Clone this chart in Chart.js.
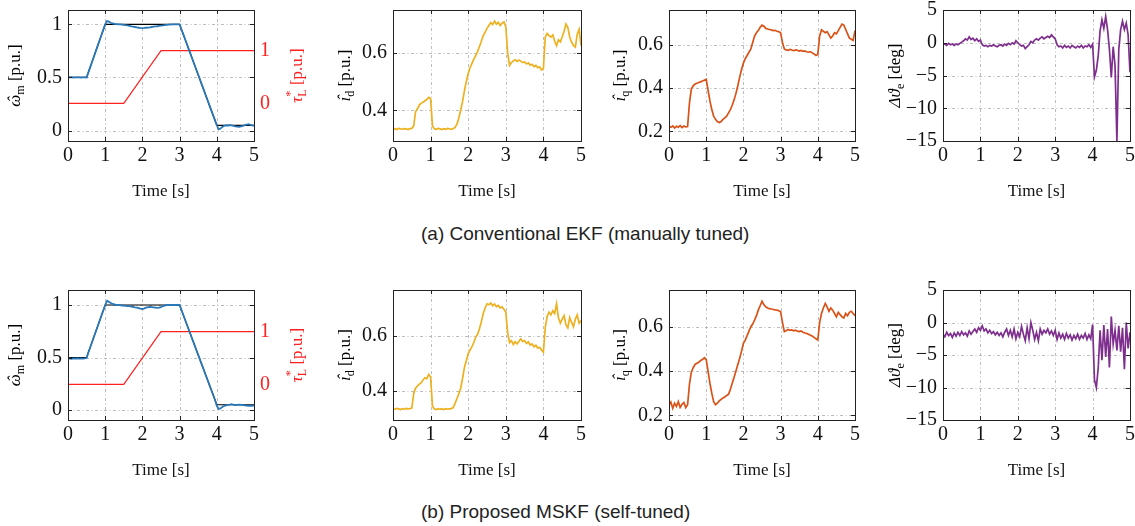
<!DOCTYPE html>
<html>
<head>
<meta charset="utf-8">
<script src="https://cdn.jsdelivr.net/npm/chart.js@4.4.1/dist/chart.umd.min.js"></script>
<style>
  body { margin: 0; background: #fff; width: 1135px; height: 526px; position: relative; overflow: hidden; }
  canvas { position: absolute; }
  .cap { position: absolute; left: 421px; font: 19px "Liberation Sans", Arial, sans-serif; color: #222; line-height: 22px; white-space: nowrap; }
</style>
</head>
<body>
<div class="cap" style="top:223px">(a) Conventional EKF (manually tuned)</div>
<div class="cap" style="top:501px">(b) Proposed MSKF (self-tuned)</div>
<script>
// time grid used by the sampled series (s)
const tGrid = [0,0.05,0.1,0.15,0.2,0.25,0.3,0.35,0.4,0.45,0.5,0.55,0.6,0.65,0.7,0.75,0.8,0.85,0.9,0.95,
  1,1.05,1.1,1.15,1.2,1.25,1.3,1.35,1.4,1.45,1.5,1.55,1.6,1.65,1.7,1.75,1.8,1.85,1.9,1.95,
  2,2.05,2.1,2.15,2.2,2.25,2.3,2.35,2.4,2.45,2.5,2.55,2.6,2.65,2.7,2.75,2.8,2.85,2.9,2.95,
  3,3.05,3.1,3.15,3.2,3.25,3.3,3.35,3.4,3.45,3.5,3.55,3.6,3.65,3.7,3.75,3.8,3.85,3.9,3.95,
  4,4.05,4.1,4.15,4.2,4.25,4.3,4.35,4.4,4.45,4.5,4.55,4.6,4.65,4.7,4.75,4.8,4.85,4.9,4.95,5];

// speed reference and load torque reference (same in both runs)
const speedRef = [[0,0.5],[0.5,0.5],[1,1],[3,1],[4,0.05],[5,0.05]];
const torqueRef = [[0,0],[1.5,0],[2.5,1],[5,1]];

// (a) conventional EKF
const speedEstA = [0.5,0.5,0.502,0.499,0.5,0.501,0.5,0.499,0.5,0.501,0.5,
  0.55,0.6,0.65,0.7,0.75,0.8,0.85,0.9,0.95,1.0,1.03,1.025,1.015,1.01,1.005,1.003,1.0,1.0,0.998,
  0.995,0.992,0.99,0.985,0.98,0.978,0.975,0.972,0.968,0.966,0.965,0.966,0.968,0.97,0.972,0.975,0.978,0.98,0.982,0.985,
  0.988,0.99,0.993,0.995,0.997,0.998,1.0,1.0,1.0,1.0,1.0,
  0.952,0.905,0.857,0.81,0.762,0.715,0.667,0.62,0.572,0.525,0.478,0.43,0.383,0.335,0.288,0.24,0.193,0.145,0.098,
  0.05,0.012,0.02,0.035,0.045,0.05,0.048,0.052,0.05,0.045,0.04,0.038,0.035,0.04,0.045,0.052,0.055,0.06,0.055,0.05,0.045];
const idA = [0.334,0.336,0.333,0.337,0.335,0.334,0.336,0.335,0.333,0.336,0.337,
  0.345,0.395,0.405,0.418,0.425,0.428,0.433,0.438,0.445,0.44,0.345,0.336,0.334,0.337,0.335,0.333,0.336,0.334,0.337,
  0.335,0.334,0.336,0.34,0.352,0.372,0.4,0.43,0.468,0.5,0.528,0.548,0.563,0.578,0.59,0.605,0.622,0.64,0.66,0.672,
  0.685,0.695,0.705,0.698,0.71,0.7,0.706,0.695,0.703,0.708,0.69,0.6,0.556,0.566,0.572,0.576,0.57,0.575,0.571,0.566,
  0.568,0.561,0.565,0.557,0.56,0.552,0.556,0.548,0.551,0.54,0.545,0.655,0.667,0.66,0.655,0.662,0.64,0.625,0.645,0.638,
  0.655,0.675,0.7,0.688,0.655,0.637,0.626,0.62,0.665,0.682,0.625];
const iqA = [0.222,0.218,0.225,0.215,0.223,0.219,0.226,0.217,0.224,0.22,0.222,
  0.33,0.395,0.41,0.418,0.422,0.425,0.428,0.432,0.436,0.44,0.39,0.34,0.3,0.27,0.255,0.245,0.24,0.245,0.255,
  0.262,0.27,0.285,0.3,0.32,0.345,0.375,0.41,0.45,0.485,0.515,0.535,0.55,0.565,0.58,0.61,0.64,0.655,0.665,0.68,
  0.69,0.685,0.675,0.672,0.67,0.668,0.665,0.666,0.662,0.66,0.655,0.61,0.58,0.576,0.574,0.578,0.575,0.572,0.576,0.574,
  0.57,0.573,0.569,0.571,0.567,0.565,0.568,0.562,0.557,0.55,0.555,0.64,0.668,0.662,0.655,0.66,0.645,0.63,0.64,0.655,
  0.65,0.665,0.68,0.695,0.69,0.67,0.65,0.63,0.625,0.62,0.665];
const dthA = [-0.3,-0.2,-0.4,-0.1,-0.3,-0.2,-0.4,-0.2,-0.3,-0.1,0.1,
  0.3,0.6,0.4,0.9,0.5,0.7,0.3,0.6,0.2,0.4,-0.3,-0.5,-0.4,-0.6,-0.4,-0.5,-0.3,-0.5,-0.6,
  -0.4,-0.3,-0.5,-0.2,-0.4,-0.1,-0.3,0.0,-0.2,0.3,0.0,-0.3,-0.5,-0.4,-0.9,-0.6,-0.3,0.2,0.0,0.4,
  0.6,0.4,0.7,0.9,0.6,0.8,1.0,0.8,1.2,0.9,0.6,-0.3,-0.6,-0.5,-0.8,-0.4,-0.7,-0.5,-0.8,-0.4,
  -0.6,-0.8,-0.5,-0.7,-0.4,-0.8,-0.5,-0.6,-0.3,-0.7,-0.2,-5.2,-4.2,-2.0,1.8,3.5,2.2,4.0,2.0,-1.0,
  -5.3,-0.6,-3.5,-15,-1.0,2.0,3.3,2.0,3.0,1.2,-4.5];

// (b) proposed MSKF
const speedEstB = [0.49,0.492,0.488,0.491,0.49,0.493,0.489,0.492,0.49,0.491,0.495,
  0.55,0.6,0.65,0.7,0.75,0.8,0.85,0.9,0.95,1.0,1.04,1.03,1.02,1.01,1.005,1.0,1.0,0.998,0.995,
  0.995,0.992,0.99,0.99,0.985,0.982,0.978,0.975,0.97,0.965,0.962,0.968,0.975,0.98,0.982,0.98,0.978,0.975,0.972,0.975,
  0.98,0.99,0.995,1.0,1.0,1.0,1.0,1.0,1.0,1.0,1.0,
  0.952,0.905,0.857,0.81,0.762,0.715,0.667,0.62,0.572,0.525,0.478,0.43,0.383,0.335,0.288,0.24,0.193,0.145,0.098,
  0.04,0.01,0.015,0.03,0.04,0.045,0.05,0.052,0.055,0.05,0.048,0.05,0.052,0.05,0.048,0.045,0.042,0.04,0.042,0.04,0.045];
const idB = [0.336,0.334,0.337,0.335,0.333,0.336,0.334,0.337,0.335,0.336,0.338,
  0.39,0.41,0.418,0.425,0.43,0.44,0.448,0.445,0.46,0.45,0.345,0.335,0.333,0.336,0.334,0.335,0.333,0.336,0.334,
  0.335,0.336,0.34,0.355,0.372,0.39,0.41,0.445,0.485,0.51,0.535,0.548,0.56,0.575,0.595,0.605,0.625,0.65,0.68,0.7,
  0.715,0.712,0.718,0.708,0.714,0.705,0.709,0.7,0.704,0.695,0.685,0.61,0.575,0.582,0.568,0.578,0.57,0.58,0.588,0.579,
  0.582,0.572,0.578,0.566,0.57,0.56,0.565,0.555,0.558,0.548,0.54,0.63,0.67,0.685,0.675,0.69,0.68,0.715,0.665,0.645,
  0.66,0.672,0.64,0.628,0.665,0.648,0.632,0.66,0.675,0.645,0.655];
const iqB = [0.245,0.26,0.232,0.255,0.24,0.262,0.236,0.25,0.258,0.235,0.248,
  0.34,0.395,0.415,0.43,0.435,0.44,0.448,0.452,0.46,0.452,0.4,0.345,0.3,0.262,0.248,0.255,0.265,0.272,0.278,
  0.283,0.29,0.295,0.318,0.345,0.372,0.4,0.43,0.458,0.49,0.525,0.54,0.56,0.58,0.6,0.612,0.63,0.65,0.675,0.695,
  0.715,0.7,0.69,0.685,0.682,0.68,0.678,0.676,0.675,0.672,0.668,0.62,0.578,0.582,0.588,0.584,0.586,0.582,0.585,0.58,
  0.578,0.581,0.575,0.572,0.57,0.566,0.562,0.558,0.552,0.546,0.54,0.62,0.66,0.685,0.705,0.69,0.67,0.685,0.675,0.66,
  0.645,0.665,0.655,0.645,0.64,0.66,0.65,0.665,0.67,0.66,0.65];
const dthB = [-1.8,-2.2,-1.5,-2.0,-1.7,-2.3,-1.6,-2.1,-1.5,-2.0,-1.4,
  -1.9,-1.6,-2.1,-1.3,-1.8,-1.4,-1.0,-1.5,-0.8,-1.2,-0.5,-1.3,-1.0,-1.6,-1.2,-1.7,-1.4,-1.9,-1.5,
  -2.0,-1.6,-2.2,-1.5,-1.0,-2.0,-1.2,-2.2,-1.0,-2.5,-1.5,-2.2,-0.6,-1.8,-2.8,-0.8,-2.5,0.0,-1.2,-2.6,
  -1.5,-2.8,-1.0,-1.8,-1.2,-1.6,-1.0,-1.8,-1.3,-2.0,-1.2,-2.6,-1.6,-2.4,-1.8,-2.6,-1.7,-2.4,-1.9,-2.7,
  -2.0,-2.5,-1.8,-2.6,-2.0,-2.4,-1.7,-2.6,-1.9,-2.5,-0.3,-8.8,-10.0,-7.0,-1.2,-5.8,-0.4,-5.3,-1.0,-6.9,
  0.9,-3.3,-1.2,-4.3,-0.5,-4.5,-0.8,-7.2,0.0,-4.0,-1.5];

// tick labels
const timeTicks = [0,1,2,3,4,5];
const speedTicks = [0,0.5,1];
const torqueTicks = [0,1];
const idTicks = [0.4,0.6];
const iqTicks = [0.2,0.4,0.6];
const angleTicks = [-15,-10,-5,0,5];

const BLUE = '#2a78b8', ORANGE = '#d95319', YELLOW = '#edb120', PURPLE = '#7e2f8e', RED = '#ff2020';
const SERIF = 'Liberation Serif';
Chart.defaults.font.family = SERIF;

const onGrid = vals => vals.map((v, i) => ({x: tGrid[i], y: v}));
const fromPairs = prs => prs.map(p => ({x: p[0], y: p[1]}));
const fmt = v => (v < 0 ? '\u2212' + Math.abs(v) : String(v));

// grid, frame and inner tick marks like pgfplots
const framePlugin = {
  id: 'frame',
  beforeDatasetsDraw(chart) {
    const {ctx, chartArea: a, scales} = chart;
    ctx.save();
    ctx.strokeStyle = '#b4b4b4';
    ctx.lineWidth = 0.9;
    ctx.setLineDash([3, 2.5, 1, 2.5]);
    ctx.beginPath();
    scales.x.ticks.forEach(t => {
      const x = Math.round(scales.x.getPixelForValue(t.value)) + 0.5;
      ctx.moveTo(x, a.top); ctx.lineTo(x, a.bottom);
    });
    scales.y.ticks.forEach(t => {
      const y = Math.round(scales.y.getPixelForValue(t.value)) + 0.5;
      ctx.moveTo(a.left, y); ctx.lineTo(a.right, y);
    });
    ctx.stroke();
    ctx.restore();
  },
  afterDatasetsDraw(chart) {
    const {ctx, chartArea: a, scales} = chart;
    ctx.save();
    ctx.strokeStyle = '#222';
    ctx.lineWidth = 1;
    ctx.beginPath();
    scales.x.ticks.forEach(t => {
      const x = Math.round(scales.x.getPixelForValue(t.value)) + 0.5;
      ctx.moveTo(x, a.bottom); ctx.lineTo(x, a.bottom - 4);
      ctx.moveTo(x, a.top); ctx.lineTo(x, a.top + 4);
    });
    scales.y.ticks.forEach(t => {
      const y = Math.round(scales.y.getPixelForValue(t.value)) + 0.5;
      ctx.moveTo(a.left, y); ctx.lineTo(a.left + 4, y);
      ctx.moveTo(a.right, y); ctx.lineTo(a.right - 4, y);
    });
    ctx.stroke();
    ctx.strokeRect(Math.round(a.left) + 0.5, Math.round(a.top) + 0.5,
      Math.round(a.right - a.left), Math.round(a.bottom - a.top));
    ctx.restore();
  }
};

// rotated axis labels with sub/superscripts (hat drawn over the glyph)
function drawRich(ctx, segs, cx, cy, color) {
  const big = '17px ' + SERIF, bigI = 'italic 17px ' + SERIF, small = '12px ' + SERIF, smallI = 'italic 12px ' + SERIF;
  const fontOf = s => s.sub || s.sup ? (s.i ? smallI : small) : (s.i ? bigI : big);
  ctx.save();
  let w = 0;
  segs.forEach(s => { ctx.font = fontOf(s); if (!s.stack) w += ctx.measureText(s.t).width; });
  ctx.translate(cx, cy);
  ctx.rotate(-Math.PI / 2);
  ctx.fillStyle = color;
  ctx.textBaseline = 'alphabetic';
  let x = -w / 2;
  segs.forEach(s => {
    ctx.font = fontOf(s);
    const dy = s.sub ? 9 : s.sup ? -3 : 5;
    const sw = ctx.measureText(s.t).width;
    ctx.fillText(s.t, x, dy);
    if (s.hat) {
      ctx.textAlign = 'center';
      ctx.fillText('\u02C6', x + sw / 2 + 1, dy - 1);
      ctx.textAlign = 'left';
    }
    if (!s.stack) x += sw;
  });
  ctx.restore();
}

const labelPlugin = {
  id: 'richLabels',
  afterDraw(chart) {
    const p = chart.options.plugins.richLabels;
    const a = chart.chartArea;
    const cy = (a.top + a.bottom) / 2;
    drawRich(chart.ctx, p.left, p.leftX, cy, '#000');
    if (p.right) drawRich(chart.ctx, p.right, p.rightX, cy, RED);
  }
};

const PU = {t: ' [p.u.]'};
const panels = [
  // row (a)
  {left: 0, top: 0, w: 310, h: 202, bx: 68, br: 254, bt: 10, bb: 141, y: [-0.098, 1.135], yt: speedTicks,
   y2: [-0.717, 1.774], lab: [{t: 'ω', i: true, hat: true}, {t: 'm', sub: true}, PU], labX: 15,
   lab2: [{t: 'τ', i: true}, {t: '*', sup: true, stack: true}, {t: 'L', sub: true}, PU], lab2X: 297,
   sets: [{d: onGrid(speedEstA), c: BLUE, w: 1.8}, {d: fromPairs(speedRef), c: '#000', w: 1.2},
          {d: fromPairs(torqueRef), c: RED, w: 1.2, axis: 'y2'}]},
  {left: 325, top: 0, w: 265, h: 202, bx: 393, br: 581, bt: 10, bb: 141, y: [0.293, 0.749], yt: idTicks,
   lab: [{t: 'ı', i: true, hat: true}, {t: 'd', sub: true}, PU], labX: 345, sets: [{d: onGrid(idA), c: YELLOW, w: 1.7}]},
  {left: 600, top: 0, w: 265, h: 202, bx: 669, br: 855, bt: 10, bb: 141, y: [0.155, 0.76], yt: iqTicks,
   lab: [{t: 'ı', i: true, hat: true}, {t: 'q', sub: true}, PU], labX: 620, sets: [{d: onGrid(iqA), c: ORANGE, w: 1.7}]},
  {left: 875, top: 0, w: 260, h: 202, bx: 943, br: 1130, bt: 10, bb: 141, y: [-15, 5], yt: angleTicks,
   lab: [{t: 'Δϑ', i: true}, {t: 'e', sub: true}, {t: ' [deg]'}], labX: 895, sets: [{d: onGrid(dthA), c: PURPLE, w: 1.7}]},
  // row (b)
  {left: 0, top: 280, w: 310, h: 201, bx: 68, br: 254, bt: 290, bb: 420, y: [-0.095, 1.143], yt: speedTicks,
   y2: [-0.679, 1.793], lab: [{t: 'ω', i: true, hat: true}, {t: 'm', sub: true}, PU], labX: 15,
   lab2: [{t: 'τ', i: true}, {t: '*', sup: true, stack: true}, {t: 'L', sub: true}, PU], lab2X: 297,
   sets: [{d: onGrid(speedEstB), c: BLUE, w: 1.8}, {d: fromPairs(speedRef), c: '#000', w: 1.2},
          {d: fromPairs(torqueRef), c: RED, w: 1.2, axis: 'y2'}]},
  {left: 325, top: 280, w: 265, h: 201, bx: 393, br: 581, bt: 290, bb: 420, y: [0.295, 0.765], yt: idTicks,
   lab: [{t: 'ı', i: true, hat: true}, {t: 'd', sub: true}, PU], labX: 345, sets: [{d: onGrid(idB), c: YELLOW, w: 1.7}]},
  {left: 600, top: 280, w: 265, h: 201, bx: 669, br: 855, bt: 290, bb: 420, y: [0.179, 0.766], yt: iqTicks,
   lab: [{t: 'ı', i: true, hat: true}, {t: 'q', sub: true}, PU], labX: 620, sets: [{d: onGrid(iqB), c: ORANGE, w: 1.7}]},
  {left: 875, top: 280, w: 260, h: 201, bx: 943, br: 1130, bt: 290, bb: 420, y: [-15, 5], yt: angleTicks,
   lab: [{t: 'Δϑ', i: true}, {t: 'e', sub: true}, {t: ' [deg]'}], labX: 895, sets: [{d: onGrid(dthB), c: PURPLE, w: 1.7}]}
];

const tickFont = {family: SERIF, size: 20};

function build(p) {
  const cv = document.createElement('canvas');
  cv.width = p.w; cv.height = p.h;
  cv.style.left = p.left + 'px'; cv.style.top = p.top + 'px';
  document.body.appendChild(cv);

  const yW = p.bx - p.left;
  const xH = p.top + p.h - p.bb;
  const rightGap = p.left + p.w - p.br;

  const scales = {
    x: {
      type: 'linear', min: 0, max: 5,
      afterBuildTicks: s => { s.ticks = timeTicks.map(v => ({value: v})); },
      ticks: {font: tickFont, color: '#111', padding: 3, maxRotation: 0, autoSkip: false, callback: fmt},
      grid: {display: false, drawTicks: false},
      border: {display: false},
      title: {display: true, text: 'Time [s]', font: {family: SERIF, size: 17}, color: '#111', padding: 0},
      afterFit: s => { s.height = xH; s.paddingLeft = 0; s.paddingRight = 0; }
    },
    y: {
      type: 'linear', position: 'left', min: p.y[0], max: p.y[1],
      afterBuildTicks: s => { s.ticks = p.yt.map(v => ({value: v})); },
      ticks: {font: tickFont, color: '#111', padding: 6, callback: fmt},
      grid: {display: false, drawTicks: false},
      border: {display: false},
      afterFit: s => { s.width = yW; s.paddingTop = 0; s.paddingBottom = 0; }
    }
  };
  if (p.y2) {
    scales.y2 = {
      type: 'linear', position: 'right', min: p.y2[0], max: p.y2[1],
      afterBuildTicks: s => { s.ticks = torqueTicks.map(v => ({value: v})); },
      ticks: {font: tickFont, color: RED, padding: 6, callback: fmt},
      grid: {display: false, drawTicks: false},
      border: {display: false},
      afterFit: s => { s.width = rightGap; s.paddingTop = 0; s.paddingBottom = 0; }
    };
  }

  new Chart(cv, {
    type: 'line',
    data: {
      datasets: p.sets.map(s => ({
        data: s.d, borderColor: s.c, borderWidth: s.w, yAxisID: s.axis || 'y',
        pointRadius: 0, tension: 0, fill: false
      }))
    },
    options: {
      responsive: false, animation: false, devicePixelRatio: 1,
      layout: {padding: {top: p.bt - p.top, right: p.y2 ? 0 : rightGap, left: 0, bottom: 0}},
      plugins: {
        legend: {display: false}, tooltip: {enabled: false},
        richLabels: {left: p.lab, leftX: p.labX - p.left, right: p.lab2, rightX: (p.lab2X || 0) - p.left}
      },
      scales
    },
    plugins: [framePlugin, labelPlugin]
  });
}

panels.forEach(build);
</script>
</body>
</html>
